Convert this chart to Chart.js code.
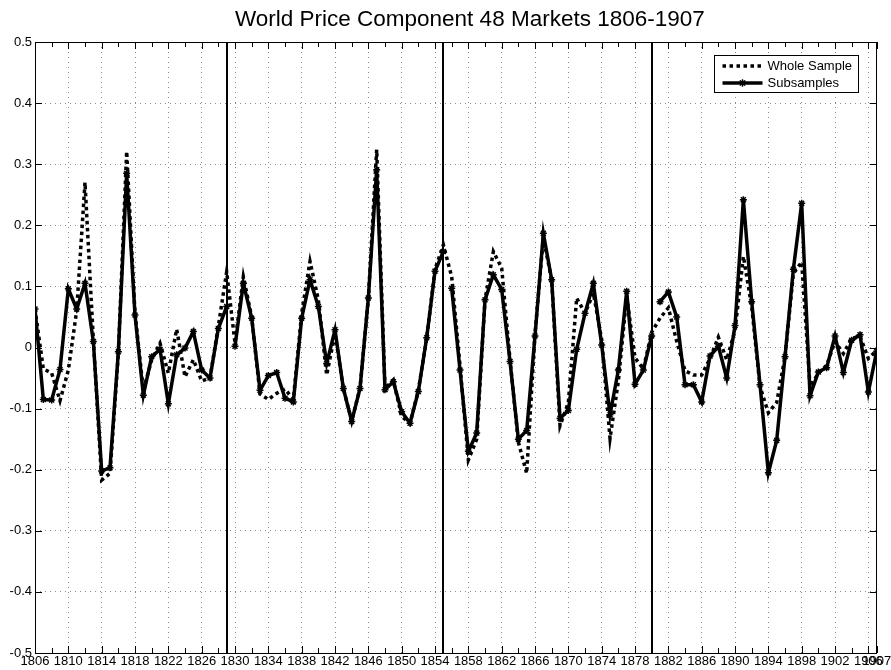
<!DOCTYPE html>
<html>
<head>
<meta charset="utf-8">
<title>World Price Component 48 Markets 1806-1907</title>
<script src="https://cdn.jsdelivr.net/npm/chart.js@4.4.1/dist/chart.umd.min.js"></script>
<style>
    html, body { margin: 0; padding: 0; background: #fff; }
</style>
</head>
<body>
<canvas id="world-price-chart" width="891" height="670"></canvas>
<script>
// Anos (eixo x)
const years = [
    1806, 1807, 1808, 1809, 1810, 1811, 1812, 1813, 1814, 1815,
    1816, 1817, 1818, 1819, 1820, 1821, 1822, 1823, 1824, 1825,
    1826, 1827, 1828, 1829, 1830, 1831, 1832, 1833, 1834, 1835,
    1836, 1837, 1838, 1839, 1840, 1841, 1842, 1843, 1844, 1845,
    1846, 1847, 1848, 1849, 1850, 1851, 1852, 1853, 1854, 1855,
    1856, 1857, 1858, 1859, 1860, 1861, 1862, 1863, 1864, 1865,
    1866, 1867, 1868, 1869, 1870, 1871, 1872, 1873, 1874, 1875,
    1876, 1877, 1878, 1879, 1880, 1881, 1882, 1883, 1884, 1885,
    1886, 1887, 1888, 1889, 1890, 1891, 1892, 1893, 1894, 1895,
    1896, 1897, 1898, 1899, 1900, 1901, 1902, 1903, 1904, 1905,
    1906, 1907
];

// Componente de preço mundial - amostra completa
const wholeSample = [
    0.063, -0.035, -0.042, -0.087, -0.037, 0.060, 0.270, 0.013, -0.217, -0.206,
    -0.010, 0.321, 0.056, -0.070, -0.020, 0.007, -0.042, 0.030, -0.048, -0.020,
    -0.055, -0.050, 0.035, 0.124, 0.007, 0.116, 0.050, -0.076, -0.085, -0.075,
    -0.068, -0.085, 0.056, 0.141, 0.078, -0.045, 0.023, -0.067, -0.120, -0.067,
    0.080, 0.324, -0.067, -0.053, -0.113, -0.124, -0.070, 0.015, 0.128, 0.168,
    0.116, -0.030, -0.184, -0.150, 0.078, 0.157, 0.130, -0.020, -0.155, -0.206,
    0.023, 0.180, 0.110, -0.128, -0.090, 0.081, 0.056, 0.089, 0.013, -0.149,
    -0.055, 0.084, -0.017, -0.035, 0.025, 0.048, 0.065, 0.010, -0.038, -0.045,
    -0.045, -0.018, 0.017, -0.020, 0.028, 0.149, 0.067, -0.064, -0.107, -0.090,
    -0.015, 0.121, 0.140, -0.064, -0.042, -0.029, 0.010, -0.010, 0.015, 0.018,
    -0.018, -0.005
];

// Componente de preço mundial - subamostras
const subsamples = [
    0.063, -0.085, -0.086, -0.036, 0.096, 0.063, 0.105, 0.010, -0.202, -0.197,
    -0.007, 0.285, 0.053, -0.078, -0.015, -0.003, -0.092, -0.012, -0.001, 0.026,
    -0.037, -0.050, 0.031, 0.067, 0.002, 0.105, 0.048, -0.070, -0.046, -0.041,
    -0.083, -0.089, 0.048, 0.111, 0.067, -0.026, 0.029, -0.067, -0.121, -0.067,
    0.081, 0.291, -0.069, -0.056, -0.105, -0.124, -0.072, 0.016, 0.125, 0.157,
    0.097, -0.037, -0.170, -0.140, 0.078, 0.119, 0.095, -0.023, -0.150, -0.136,
    0.019, 0.187, 0.111, -0.116, -0.103, -0.003, 0.056, 0.105, 0.004, -0.110,
    -0.037, 0.092, -0.060, -0.037, 0.019, 0.075, 0.091, 0.050, -0.061, -0.061,
    -0.089, -0.014, 0.002, -0.050, 0.036, 0.242, 0.075, -0.061, -0.205, -0.152,
    -0.015, 0.128, 0.236, -0.079, -0.040, -0.033, 0.019, -0.041, 0.012, 0.021,
    -0.073, -0.006
];

// Último ano de cada subamostra (linhas verticais)
const breakYears = [1829, 1855, 1880];

// Rótulos dos eixos
const xTickYears = [
    1806, 1810, 1814, 1818, 1822, 1826, 1830, 1834, 1838, 1842, 1846, 1850, 1854,
    1858, 1862, 1866, 1870, 1874, 1878, 1882, 1886, 1890, 1894, 1898, 1902, 1906, 1907
];
const yTicks = [-0.5, -0.4, -0.3, -0.2, -0.1, 0, 0.1, 0.2, 0.3, 0.4, 0.5];

const seriesLabels = ['Whole Sample', 'Subsamples'];
const chartTitle = 'World Price Component 48 Markets 1806-1907';

let worldPriceChart = null;

const FONT = "'Liberation Sans', Arial, Helvetica, sans-serif";

/**
 * Monta os pontos das subamostras, quebrando a linha depois de cada corte
 */
function buildSubsamplePoints() {
    const points = [];
    years.forEach((year, i) => {
        points.push({ x: year, y: subsamples[i] });
        if (breakYears.includes(year)) {
            points.push({ x: year + 0.5, y: null });
        }
    });
    return points;
}

/**
 * Plugin: título, moldura, ticks internos, linhas de corte e legenda
 */
const framePlugin = {
    id: 'matlabFrame',
    beforeDatasetsDraw(chart) {
        const { ctx, chartArea: area, scales } = chart;
        ctx.save();
        ctx.strokeStyle = '#000';
        ctx.lineWidth = 2;
        breakYears.forEach(year => {
            const x = Math.round(scales.x.getPixelForValue(year));
            ctx.beginPath();
            ctx.moveTo(x, area.top);
            ctx.lineTo(x, area.bottom);
            ctx.stroke();
        });
        ctx.restore();
    },
    afterDraw(chart) {
        const { ctx, chartArea: area, scales } = chart;
        ctx.save();

        // Título
        ctx.fillStyle = '#000';
        ctx.font = '22.5px ' + FONT;
        ctx.textAlign = 'center';
        ctx.textBaseline = 'middle';
        ctx.fillText(chartTitle, (area.left + area.right) / 2 + 14, area.top - 22);

        ctx.strokeStyle = '#000';
        ctx.lineWidth = 1;

        // Ticks do eixo x (maiores e menores), apontando para dentro
        const xMarks = [];
        xTickYears.forEach((year, i) => {
            xMarks.push({ v: year, len: 7 });
            const next = xTickYears[i + 1];
            if (next !== undefined && next - year === 4) {
                xMarks.push({ v: year + 2, len: 5 });
            }
        });
        ctx.beginPath();
        xMarks.forEach(m => {
            const x = Math.round(scales.x.getPixelForValue(m.v)) + 0.5;
            ctx.moveTo(x, area.bottom);
            ctx.lineTo(x, area.bottom - m.len);
            ctx.moveTo(x, area.top);
            ctx.lineTo(x, area.top + m.len);
        });
        yTicks.forEach(v => {
            const y = Math.round(scales.y.getPixelForValue(v)) + 0.5;
            ctx.moveTo(area.left, y);
            ctx.lineTo(area.left + 7, y);
            ctx.moveTo(area.right, y);
            ctx.lineTo(area.right - 7, y);
        });
        ctx.stroke();

        // Moldura
        ctx.strokeRect(Math.round(area.left) + 0.5, Math.round(area.top) + 0.5,
            Math.round(area.right - area.left) - 1, Math.round(area.bottom - area.top));

        // Legenda
        const boxW = 144;
        const boxH = 37;
        const left = Math.round(area.right - 19 - boxW) + 0.5;
        const top = Math.round(area.top + 13) + 0.5;
        ctx.fillStyle = '#fff';
        ctx.fillRect(left, top, boxW, boxH);
        ctx.strokeRect(left, top, boxW, boxH);

        const rows = [top + 10.5, top + 27.5];
        chart.data.datasets.forEach((ds, i) => {
            const y = rows[i];
            ctx.save();
            ctx.strokeStyle = '#000';
            ctx.lineWidth = ds.borderWidth;
            ctx.setLineDash(ds.borderDash || []);
            ctx.beginPath();
            ctx.moveTo(left + 8, y);
            ctx.lineTo(left + 48, y);
            ctx.stroke();
            ctx.restore();
            if (ds.pointRadius > 0) {
                Chart.helpers.drawPoint(ctx, {
                    pointStyle: ds.pointStyle,
                    radius: ds.pointRadius,
                    borderWidth: ds.pointBorderWidth
                }, left + 28, y);
                ctx.strokeStyle = '#000';
                ctx.lineWidth = ds.pointBorderWidth;
                ctx.stroke();
            }
            ctx.fillStyle = '#000';
            ctx.font = '13px ' + FONT;
            ctx.textBaseline = 'middle';
            ctx.textAlign = 'left';
            ctx.fillText(ds.label, left + 53, y);
        });
        ctx.restore();
    }
};

/**
 * Cria o gráfico
 */
function createWorldPriceChart() {
    const ctx = document.getElementById('world-price-chart');
    if (!ctx) return;

    if (worldPriceChart) {
        worldPriceChart.destroy();
    }

    Chart.defaults.font.family = FONT;
    Chart.defaults.color = '#000';

    worldPriceChart = new Chart(ctx, {
        type: 'line',
        data: {
            datasets: [
                {
                    label: seriesLabels[0],
                    data: years.map((year, i) => ({ x: year, y: wholeSample[i] })),
                    borderColor: '#000',
                    borderWidth: 3.5,
                    borderDash: [3.5, 3.5],
                    borderCapStyle: 'butt',
                    pointRadius: 0,
                    tension: 0,
                    order: 1
                },
                {
                    label: seriesLabels[1],
                    data: buildSubsamplePoints(),
                    borderColor: '#000',
                    borderWidth: 3.5,
                    pointStyle: 'star',
                    pointRadius: 3.5,
                    pointBorderWidth: 1.5,
                    pointBorderColor: '#000',
                    pointBackgroundColor: '#000',
                    tension: 0,
                    spanGaps: false,
                    order: 0
                }
            ]
        },
        options: {
            responsive: false,
            animation: false,
            devicePixelRatio: 1,
            layout: {
                padding: { left: 0, right: 14.3, top: 42, bottom: 0 }
            },
            scales: {
                x: {
                    type: 'linear',
                    min: 1806,
                    max: 1907,
                    afterBuildTicks: scale => {
                        scale.ticks = xTickYears.map(v => ({ value: v }));
                    },
                    afterFit: scale => {
                        scale.height = 17;
                        scale.paddingLeft = 0;
                        scale.paddingRight = 0;
                    },
                    ticks: {
                        autoSkip: false,
                        maxRotation: 0,
                        minRotation: 0,
                        padding: 1,
                        font: { size: 13 },
                        color: '#000',
                        callback: v => String(v)
                    },
                    grid: {
                        color: ctx => (ctx.tick && ctx.tick.value === 1907 ? 'rgba(0,0,0,0)' : '#8c8c8c'),
                        lineWidth: 1,
                        drawTicks: false
                    },
                    border: { display: false, dash: [1, 4] }
                },
                y: {
                    type: 'linear',
                    min: -0.5,
                    max: 0.5,
                    afterBuildTicks: scale => {
                        scale.ticks = yTicks.map(v => ({ value: v }));
                    },
                    afterFit: scale => {
                        scale.width = 35;
                        scale.paddingTop = 0;
                        scale.paddingBottom = 0;
                    },
                    ticks: {
                        padding: 3,
                        font: { size: 13 },
                        color: '#000',
                        callback: v => (Math.abs(v) < 1e-9 ? '0' : v.toFixed(1))
                    },
                    grid: {
                        color: '#8c8c8c',
                        lineWidth: 1,
                        drawTicks: false
                    },
                    border: { display: false, dash: [1, 4] }
                }
            },
            plugins: {
                legend: { display: false },
                tooltip: { enabled: false },
                title: { display: false }
            }
        },
        plugins: [framePlugin]
    });
}

createWorldPriceChart();
</script>
</body>
</html>
